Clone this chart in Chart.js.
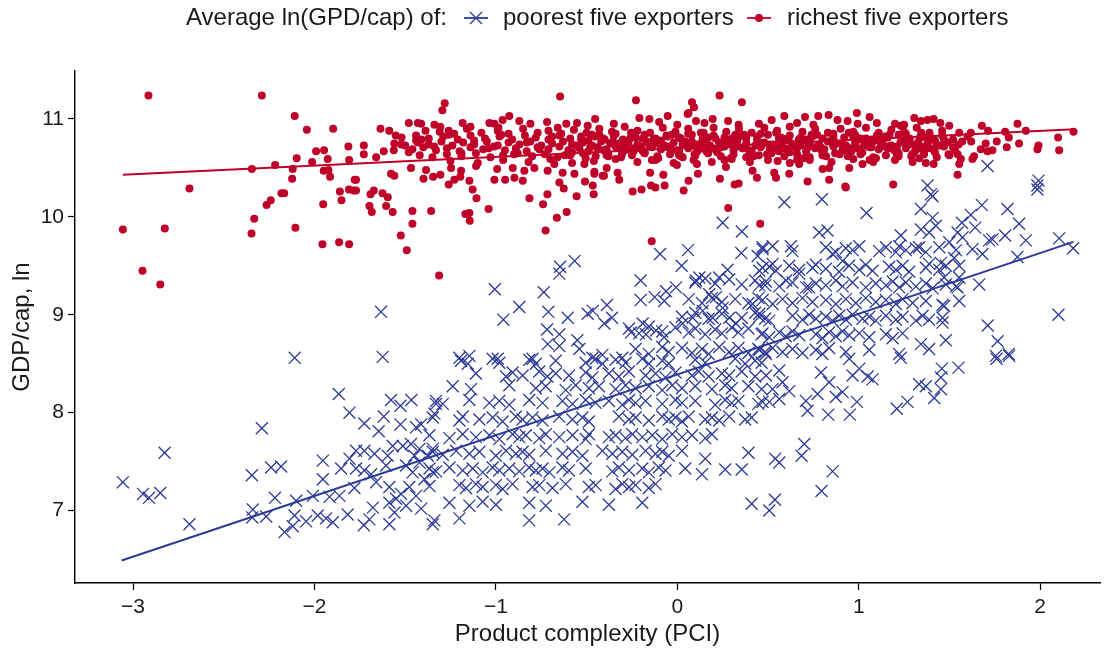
<!DOCTYPE html>
<html>
<head>
<meta charset="utf-8">
<script src="https://cdn.jsdelivr.net/npm/chart.js@4.4.1/dist/chart.umd.min.js"></script>
<style>
  html, body { margin: 0; padding: 0; background: #fff; }
  #wrap { width: 1113px; height: 651px; }
</style>
</head>
<body>
<div id="wrap"><canvas id="pciChart" width="1113" height="651"></canvas></div>
<script>
// === Data (x = PCI, y = ln GDP/cap) ===
const xTicks = [-3, -2, -1, 0, 1, 2];
const yTicks = [7, 8, 9, 10, 11];

const legendTitle = "Average ln(GPD/cap) of:";
const poorLabel = "poorest five exporters";
const richLabel = "richest five exporters";

// fitted lines, end points
const poorFit = [[-3.063, 6.49], [2.184, 9.745]];
const richFit = [[-3.056, 10.43], [2.19, 10.895]];

// richest five: scattered points left of the main band
const richLeft = [
  [-2.915,11.24],[-2.29,11.24],[-2.109,11.03],[-2.042,10.89],[-1.897,10.90],[-1.813,10.72],[-1.991,10.67],[-1.947,10.68],
  [-2.098,10.60],[-2.013,10.56],[-1.927,10.59],[-1.809,10.58],[-2.217,10.53],[-2.345,10.49],[-2.12,10.49],[-1.949,10.47],
  [-1.923,10.48],[-1.914,10.41],[-2.123,10.39],[-1.778,10.38],[-2.689,10.29],[-1.86,10.26],[-1.81,10.28],[-1.784,10.27],
  [-2.182,10.24],[-2.167,10.24],[-2.241,10.17],[-2.264,10.12],[-1.851,10.17],[-1.952,10.13],[-2.332,9.98],[-2.347,9.83],
  [-2.105,9.89],[-3.056,9.87],[-2.825,9.88],[-1.956,9.72],[-1.864,9.74],[-1.809,9.72],[-2.948,9.45],[-2.85,9.31]
];

// richest five: outliers around the band, middle section
const richMid = [
  [-0.646,11.23],[-1.282,11.16],[-1.295,11.09],[-1.48,10.96],[-1.43,10.96],[-1.412,10.95],[-1.636,10.90],[-1.588,10.88],
  [-1.552,10.83],[-1.728,10.73],[-1.728,10.64],[-1.771,10.38],[-1.771,10.27],[-1.66,10.61],[-1.618,10.67],[-1.563,10.68],
  [-1.522,10.74],[-1.44,10.78],[-1.388,10.88],[-1.339,10.94],[-1.306,10.92],[-1.26,10.88],[-1.183,10.96],[-1.14,10.92],
  [-1.036,10.96],[-1.008,10.95],[-0.986,10.91],[-0.963,10.99],[-0.926,11.03],[-0.871,10.98],[-0.81,10.95],[-0.718,10.97],
  [-0.659,10.91],[-0.612,10.95],[-0.553,10.96],[-0.494,10.93],[-0.453,11.00],
  [-1.691,10.23],[-1.673,10.27],[-1.625,10.24],[-1.596,10.20],[-1.697,10.11],[-1.684,10.05],[-1.605,10.11],[-1.569,10.05],
  [-1.46,10.06],[-1.46,9.93],[-1.357,10.06],[-1.524,9.81],[-1.491,9.66],[-1.313,9.40],[-1.168,10.03],[-1.146,10.04],
  [-1.144,9.96],[-1.128,10.28],[-1.107,10.19],[-1.04,10.08],[-0.815,10.19],[-0.74,10.13],[-0.716,10.23],[-0.664,9.99],
  [-0.61,10.05],[-0.726,9.86],[-0.555,10.21],[-0.461,10.23],[-0.466,10.32],[-0.509,10.36],[-0.457,10.46],[-0.65,10.35],
  [-0.626,10.29],[-1.008,10.38],[-0.949,10.38],[-0.898,10.40],[-0.852,10.37],[-1.399,10.39],[-1.346,10.41],[-1.306,10.43],
  [-1.26,10.33],[-1.229,10.38],[-1.196,10.41],[-1.146,10.37],[-1.109,10.52],[-1.385,10.48],[-1.247,10.50],[-1.192,10.47],
  [-1.578,10.44],[-1.56,10.42],[-1.468,10.50],[-0.993,10.49],[-0.907,10.50],[-0.843,10.47],[-0.788,10.50],[-0.715,10.47],
  [-0.678,10.54],[-0.632,10.45],[-0.567,10.44],[-0.512,10.54],[-0.457,10.44],[-0.411,10.42],
  [-0.228,11.19],[0.081,11.17],[0.092,11.12],[0.233,11.24],[0.356,11.17],[0.062,11.06],[0.057,11.05],[-0.209,11.01],
  [-0.154,11.00],[-0.053,11.03],[0.103,10.98],[0.195,11.00],[0.338,10.94],[0.59,11.03],[0.704,11.02],[0.777,11.03],
  [0.834,11.04],[0.883,10.99],[-0.389,10.50],[-0.404,10.42],[-0.329,10.45],[-0.32,10.38],[-0.246,10.26],[-0.197,10.28],
  [-0.145,10.32],[-0.121,10.30],[-0.07,10.32],[-0.077,10.43],[-0.15,10.45],[-0.002,10.53],[0.062,10.37],[0.035,10.27],
  [0.114,10.44],[0.108,10.54],[0.235,10.39],[0.268,10.51],[0.316,10.33],[0.338,10.34],[0.281,10.09],[0.457,9.93],
  [-0.141,9.75],[0.439,10.40],[0.415,10.47],[0.544,10.40],[0.534,10.45],[0.617,10.44],[0.718,10.36],[0.837,10.38],
  [0.926,10.31],[0.837,10.50],[0.801,10.49],[0.672,10.54],[0.553,10.57]
];

// richest five: right end of the band
const richRight = [
  [0.99,11.06],[1.06,11.02],[0.939,10.98],[0.994,10.95],[1.306,11.01],[1.343,10.98],[1.379,10.99],[1.413,11.00],
  [1.2,10.95],[1.232,10.93],[1.499,10.93],[1.554,10.86],[1.618,10.86],[1.679,10.93],[1.713,10.88],[1.807,10.87],
  [1.875,10.95],[1.921,10.88],[1.827,10.81],[1.761,10.77],[1.884,10.75],[1.991,10.73],[1.985,10.69],[2.099,10.81],
  [2.105,10.68],[2.184,10.87],[1.816,10.71],[1.737,10.68],[1.71,10.67],[1.673,10.69],[1.636,10.62],[1.627,10.59],
  [1.545,10.64],[1.563,10.59],[1.554,10.54],[1.545,10.43],[1.413,10.54],[1.37,10.55],[1.297,10.56],[1.334,10.60],
  [1.021,10.54],[0.948,10.50],[0.929,10.30],[1.19,10.33]
];

// richest five: the dense band itself
const richBand = [
  [-1.31,10.87],[-1.23,10.85],[-1.16,10.9],[-1.08,10.86],[-0.99,10.88],[-0.93,10.85],[-0.85,10.9],[-0.77,10.86],
  [-0.71,10.88],[-0.64,10.85],[-0.57,10.89],[-0.5,10.86],[-0.43,10.9],[-0.36,10.87],[-0.29,10.92],[-0.22,10.88],
  [-0.15,10.86],[-0.08,10.91],[-0.01,10.87],[0.06,10.9],[0.13,10.86],[0.2,10.91],[0.27,10.87],[0.34,10.9],
  [0.41,10.86],[0.48,10.91],[0.55,10.88],[0.62,10.92],[0.69,10.87],[0.76,10.9],[0.83,10.86],[0.9,10.9],
  [0.97,10.87],[1.04,10.91],[1.11,10.86],[1.18,10.89],[1.25,10.87],[1.32,10.91],[1.39,10.86],[1.46,10.88],
  [-1.52,10.81],[-1.44,10.83],[-1.37,10.8],[-1.29,10.82],[-1.21,10.79],[-1.14,10.83],[-1.06,10.8],[-0.98,10.82],
  [-0.91,10.79],[-0.84,10.83],[-0.78,10.81],[-0.71,10.79],[-0.65,10.83],[-0.59,10.8],[-0.53,10.82],[-0.47,10.84],
  [-0.41,10.8],[-0.35,10.83],[-0.3,10.79],[-0.24,10.82],[-0.18,10.84],[-0.12,10.8],[-0.06,10.83],[0.01,10.81],
  [0.08,10.84],[0.14,10.8],[0.2,10.83],[0.26,10.81],[0.32,10.84],[0.38,10.8],[0.44,10.82],[0.5,10.84],
  [0.56,10.8],[0.62,10.83],[0.68,10.81],[0.74,10.84],[0.8,10.8],[0.86,10.83],[0.92,10.81],[0.98,10.84],
  [1.04,10.8],[1.1,10.83],[1.16,10.81],[1.22,10.84],[1.28,10.8],[1.34,10.82],[1.4,10.8],[1.46,10.83],
  [1.52,10.79],[1.6,10.82],
  [-1.56,10.75],[-1.5,10.73],[-1.43,10.76],[-1.37,10.74],[-1.3,10.77],[-1.24,10.73],[-1.18,10.76],[-1.12,10.74],
  [-1.05,10.77],[-0.99,10.73],[-0.93,10.76],[-0.87,10.74],[-0.81,10.77],[-0.75,10.73],[-0.69,10.75],[-0.63,10.77],
  [-0.58,10.74],[-0.52,10.76],[-0.47,10.73],[-0.42,10.77],[-0.37,10.75],[-0.32,10.73],[-0.27,10.76],[-0.22,10.74],
  [-0.17,10.77],[-0.12,10.75],[-0.07,10.73],[-0.02,10.76],[0.03,10.74],[0.08,10.77],[0.13,10.75],[0.18,10.73],
  [0.23,10.76],[0.28,10.74],[0.33,10.77],[0.38,10.75],[0.43,10.73],[0.48,10.76],[0.53,10.74],[0.58,10.77],
  [0.63,10.75],[0.68,10.73],[0.73,10.76],[0.78,10.74],[0.83,10.77],[0.88,10.75],[0.93,10.73],[0.98,10.76],
  [1.03,10.74],[1.08,10.77],[1.13,10.75],[1.18,10.73],[1.23,10.76],[1.28,10.74],[1.33,10.77],[1.38,10.75],
  [1.43,10.73],[1.49,10.76],[1.55,10.74],[1.62,10.77],[1.7,10.75],
  [-1.46,10.69],[-1.4,10.71],[-1.33,10.68],[-1.27,10.7],[-1.2,10.67],[-1.14,10.71],[-1.07,10.69],[-1.01,10.72],
  [-0.95,10.68],[-0.89,10.7],[-0.83,10.67],[-0.77,10.71],[-0.71,10.69],[-0.65,10.72],[-0.6,10.68],[-0.54,10.7],
  [-0.49,10.67],[-0.44,10.71],[-0.39,10.69],[-0.34,10.72],[-0.29,10.68],[-0.24,10.7],[-0.19,10.67],[-0.14,10.71],
  [-0.09,10.69],[-0.04,10.72],[0.01,10.68],[0.06,10.7],[0.11,10.67],[0.16,10.71],[0.21,10.69],[0.26,10.72],
  [0.31,10.68],[0.36,10.7],[0.41,10.67],[0.46,10.71],[0.51,10.69],[0.56,10.72],[0.61,10.68],[0.66,10.7],
  [0.71,10.67],[0.76,10.71],[0.81,10.69],[0.86,10.72],[0.91,10.68],[0.96,10.7],[1.01,10.67],[1.06,10.71],
  [1.11,10.69],[1.16,10.72],[1.21,10.68],[1.26,10.7],[1.31,10.67],[1.36,10.71],[1.41,10.69],[1.47,10.72],[1.53,10.68],
  [-1.42,10.63],[-1.35,10.61],[-1.27,10.64],[-1.19,10.62],[-1.11,10.65],[-1.03,10.61],[-0.96,10.63],[-0.88,10.65],
  [-0.8,10.62],[-0.73,10.64],[-0.66,10.61],[-0.59,10.63],[-0.52,10.65],[-0.45,10.62],[-0.38,10.64],[-0.31,10.61],
  [-0.25,10.63],[-0.18,10.65],[-0.11,10.62],[-0.04,10.64],[0.03,10.61],[0.1,10.63],[0.17,10.65],[0.24,10.62],
  [0.31,10.64],[0.38,10.61],[0.45,10.63],[0.52,10.65],[0.59,10.62],[0.66,10.64],[0.73,10.61],[0.8,10.63],
  [0.87,10.65],[0.94,10.62],[1.01,10.64],[1.08,10.61],[1.15,10.63],[1.22,10.65],[1.29,10.62],[1.36,10.64],
  [1.43,10.61],[1.5,10.63],
  [-1.25,10.57],[-1.1,10.55],[-0.96,10.58],[-0.82,10.56],[-0.7,10.59],[-0.58,10.55],[-0.46,10.57],[-0.34,10.59],
  [-0.22,10.56],[-0.12,10.58],[-0.02,10.55],[0.09,10.58],[0.19,10.56],[0.3,10.59],[0.4,10.56],[0.5,10.58],
  [0.62,10.55],[0.73,10.58],[0.85,10.56],[0.97,10.59],[1.08,10.56],[1.2,10.58],
  [-0.4,10.79],[-0.33,10.71],[-0.26,10.8],[-0.2,10.72],[-0.13,10.79],[-0.05,10.71],[0.02,10.8],[0.1,10.72],
  [0.16,10.79],[0.24,10.71],[0.3,10.8],[0.37,10.72],[0.44,10.79],[0.51,10.71],[0.58,10.8],[0.65,10.72],
  [0.71,10.79],[0.79,10.71],[0.86,10.8],[0.93,10.72],[1.0,10.79],[1.07,10.71],[1.14,10.8],[1.21,10.72],
  [1.28,10.79],[1.35,10.71],[1.42,10.78],
  [-0.35,10.95],[-0.1,10.97],[0.0,10.94],[0.15,10.96],[0.28,10.98],[0.45,10.95],[0.52,10.99],[0.66,10.96],
  [0.75,10.94],[1.1,10.96],[1.25,10.94],[1.45,10.96]
];

// richest five: the solid core of the band, between the rows above
const richCore = [
  [-0.58,10.66],[-0.53,10.79],[-0.48,10.71],[-0.43,10.84],[-0.38,10.62],[-0.33,10.75],[-0.28,10.69],[-0.23,10.81],
  [-0.18,10.66],[-0.13,10.79],[-0.08,10.71],[-0.03,10.84],[0.02,10.62],[0.07,10.75],[0.12,10.69],[0.17,10.81],
  [0.22,10.66],[0.27,10.79],[0.32,10.71],[0.37,10.84],[0.42,10.62],[0.47,10.75],[0.52,10.69],[0.57,10.81],
  [0.62,10.66],[0.67,10.79],[0.72,10.71],[0.77,10.84],[0.82,10.62],[0.87,10.75],[0.92,10.69],[0.97,10.81],
  [1.02,10.66],[1.07,10.79],[1.12,10.71],[1.17,10.84],[1.22,10.62],[1.27,10.75],[1.32,10.69],[1.37,10.81],
  [1.42,10.66],[1.47,10.79],[1.52,10.71],[1.57,10.77],
  [-0.555,10.73],[-0.505,10.6],[-0.455,10.82],[-0.405,10.68],[-0.355,10.77],[-0.305,10.64],[-0.255,10.86],[-0.205,10.7],
  [-0.155,10.73],[-0.105,10.6],[-0.055,10.82],[-0.005,10.68],[0.045,10.77],[0.095,10.64],[0.145,10.86],[0.195,10.7],
  [0.245,10.73],[0.295,10.6],[0.345,10.82],[0.395,10.68],[0.445,10.77],[0.495,10.64],[0.545,10.86],[0.595,10.7],
  [0.645,10.73],[0.695,10.6],[0.745,10.82],[0.795,10.68],[0.845,10.77],[0.895,10.64],[0.945,10.86],[0.995,10.7],
  [1.045,10.73],[1.095,10.6],[1.145,10.82],[1.195,10.68],[1.245,10.77],[1.295,10.64],[1.345,10.86],[1.395,10.7],
  [1.445,10.73],[1.495,10.64],
  [-0.49,10.78],[-0.44,10.7],[-0.39,10.63],[-0.34,10.85],[-0.29,10.74],[-0.24,10.67],[-0.19,10.8],[-0.14,10.58],
  [-0.09,10.78],[-0.04,10.7],[0.01,10.63],[0.06,10.85],[0.11,10.74],[0.16,10.67],[0.21,10.8],[0.26,10.58],
  [0.31,10.78],[0.36,10.7],[0.41,10.63],[0.46,10.85],[0.51,10.74],[0.56,10.67],[0.61,10.8],[0.66,10.58],
  [0.71,10.78],[0.76,10.7],[0.81,10.63],[0.86,10.85],[0.91,10.74],[0.96,10.67],[1.01,10.8],[1.06,10.58],
  [1.11,10.78],[1.16,10.7],[1.21,10.63],[1.26,10.85],[1.31,10.74],[1.36,10.67],[1.41,10.8],
  [-1.48,10.66],[-1.41,10.79],[-1.34,10.72],[-1.26,10.84],[-1.19,10.65],[-1.12,10.78],[-1.04,10.7],[-0.97,10.84],
  [-0.9,10.64],[-0.83,10.76],[-0.76,10.69],[-0.69,10.82],[-0.62,10.63]
];

// poorest five: left, sparse part
const poorLeft = [
  [-3.056,7.29],[-2.945,7.17],[-2.912,7.13],[-2.85,7.18],[-2.826,7.59],[-2.689,6.86],[-2.345,7.36],[-2.29,7.84],
  [-2.239,7.44],[-2.184,7.45],[-2.218,7.13],[-2.34,7.01],[-2.343,6.93],[-2.266,6.94],[-2.165,6.78],[-2.12,6.84],
  [-2.101,7.10],[-2.11,6.95],[-2.046,6.89],[-2.009,7.15],[-1.982,6.95],[-1.936,6.92],[-1.899,6.88],[-1.954,7.51],
  [-1.954,7.32],[-1.917,7.14],[-1.862,7.15],[-1.817,6.96],[-1.78,7.23],[-1.853,7.43],[-1.807,7.53],[-1.771,7.61],
  [-1.725,7.61],[-1.771,7.43],[-1.725,7.41],[-1.688,7.37],[-1.66,7.29],[-1.596,7.56],[-1.569,7.66],[-1.605,7.46],
  [-1.669,7.58],[-1.728,6.85],[-1.697,6.91],[-1.678,7.03],[-1.587,6.86],[-1.587,7.08],[-1.559,6.98],[-1.495,7.05],
  [-1.412,7.02],[-1.348,6.86],[-1.513,7.66],[-1.468,7.68],[-1.421,7.63],[-1.449,7.56],[-1.421,7.49],[-1.375,7.56],
  [-1.348,7.63],[-1.495,7.46],[-1.459,7.39],[-1.394,7.32],[-1.366,7.25],[-1.348,7.39],[-1.587,7.24],[-1.55,7.12],
  [-1.523,7.17],[-1.477,7.24],[-1.44,7.15],[-1.412,7.88],[-1.339,7.99],[-1.33,8.09],[-1.44,7.85],[-2.109,8.56],
  [-1.624,8.57],[-1.866,8.19],[-1.807,8.00],[-1.578,8.13],[-1.526,8.07],[-1.466,8.13],[-1.618,7.96],[-1.526,7.88],
  [-1.725,7.89],[-1.646,7.81],[-1.633,9.03]
];

// poorest five: centre, upper part
const poorCentreHigh = [
  [0.25,9.94],[0.356,9.85],[-0.095,9.62],[0.059,9.66],[-0.566,9.55],[-0.646,9.49],[-0.65,9.42],[0.024,9.50],
  [0.353,9.63],[0.47,9.69],[0.443,9.60],[0.277,9.46],[0.231,9.38],[0.121,9.38],[0.103,9.35],[0.47,9.48],
  [-0.202,9.35],[-0.202,9.15],[-0.125,9.18],[-0.062,9.24],[-0.072,9.14],[-0.007,9.28],[-1.006,9.26],[-0.736,9.23],
  [-0.871,9.08],[-0.959,8.95],[-0.711,9.03],[-0.604,8.97],[-0.494,9.01],[-0.466,9.04],[-0.388,9.10],[-0.402,8.91],
  [-0.36,8.97],[-0.718,8.85],[-0.714,8.70],[-0.65,8.80],[-0.65,8.68],[-0.551,8.74],[-0.54,8.65],[-0.255,8.82],
  [-0.191,8.91],[-0.173,8.80],[-0.117,8.84],[-0.072,8.77],[0.029,8.91],[0.085,8.97],[0.14,9.04],[0.195,8.97],
  [0.213,9.18],[0.176,9.21],[0.25,9.07],[0.287,8.97],[0.323,8.91],[0.415,9.11],[0.452,9.01],[-1.201,8.56],
  [-1.146,8.58],[-0.99,8.55],[-0.798,8.55],[-0.468,8.56],[-0.413,8.59],[-0.303,8.56],
  [-0.266,8.86],[-0.211,8.81],[-0.157,8.88],[-0.083,8.83],[-0.01,8.87],[0.063,8.82],[0.099,8.86],[0.154,8.8],
  [0.209,8.85],[0.246,8.81],[0.3,8.87],[0.337,8.82],[0.392,8.86],[0.465,8.8],
  [-0.23,8.65],[-0.157,8.6],[-0.083,8.67],[-0.047,8.62],[0.026,8.66],[0.081,8.61],[0.136,8.65],[0.173,8.6],
  [0.231,8.67],[0.286,8.62],[0.337,8.66],[0.392,8.61],[0.447,8.65],[0.484,8.62],
  [0.099,9.33],[0.154,9.37],[0.209,9.32],[0.286,9.36],[0.355,9.31],[0.429,9.35],[0.484,9.3],
  [0.063,9.16],[0.136,9.12],[0.191,9.17],[0.246,9.13],[0.319,9.16],[0.392,9.12],[0.447,9.17],
  [0.026,8.98],[0.099,9.02],[0.173,8.96],[0.246,9.01],[0.355,8.97],[0.429,9.02],[0.484,8.96],
  [0.672,9.42],[0.745,9.48],[0.856,9.62],[0.911,9.55],[0.452,9.45],[0.6,9.35],[0.711,9.28]
];

// poorest five: right, upper part
const poorRight = [
  [1.985,10.32],[1.379,10.32],[1.398,10.23],[0.59,10.15],[0.797,10.18],[1.043,10.04],[0.782,9.84],[0.828,9.86],
  [0.626,9.70],[1.232,9.81],[1.343,10.08],[1.407,9.99],[1.425,9.91],[1.343,9.87],[1.388,9.84],[1.679,10.12],
  [1.82,10.08],[1.618,10.02],[1.642,9.89],[1.569,9.94],[1.545,9.84],[1.884,9.93],[1.807,9.81],[1.921,9.76],
  [1.737,9.77],[1.719,9.76],[1.499,9.74],[1.333,9.69],[1.627,9.67],[1.682,9.62],[1.526,9.58],[1.554,9.50],
  [2.105,9.78],[2.182,9.68],[1.875,9.59],[1.664,9.31],[1.545,9.28],[1.554,9.14],[1.471,9.09],[1.462,8.92],
  [1.48,8.74],[1.554,9.38],[2.101,9.00],[1.711,8.89],[1.766,8.73],[1.756,8.58],[1.826,8.60],[1.343,8.70],
  [1.388,8.65],[1.223,8.60],[1.71,10.52],[1.991,10.37],[1.985,10.28],[1.407,10.21],[0.525,9.52],
  [1.572,9.79],[1.453,9.53],[1.388,9.52],[1.471,9.38],
  [0.47,9.67],[0.525,9.7],[0.635,9.65],[0.819,9.69],[0.874,9.64],[0.929,9.68],[0.966,9.66],[1.003,9.7],
  [1.113,9.65],[1.15,9.69],[1.205,9.64],[1.223,9.7],[1.26,9.66],[1.315,9.68],[1.37,9.64],[1.444,9.69],[1.536,9.66],
  [0.507,9.49],[0.543,9.45],[0.617,9.5],[0.672,9.46],[0.764,9.51],[0.819,9.47],[0.892,9.44],[0.947,9.5],
  [1.003,9.46],[1.039,9.51],[1.076,9.45],[1.168,9.49],[1.205,9.46],[1.242,9.5],[1.278,9.44],[1.37,9.48],
  [1.444,9.46],[1.48,9.5],
  [0.452,9.3],[0.488,9.34],[0.562,9.29],[0.635,9.33],[0.727,9.28],[0.764,9.32],[0.819,9.3],[0.874,9.35],
  [0.911,9.29],[0.966,9.33],[1.039,9.28],[1.094,9.32],[1.15,9.3],[1.187,9.34],[1.223,9.28],[1.26,9.33],
  [1.315,9.29],[1.37,9.32],[1.407,9.27],[1.48,9.31],[1.536,9.29],
  [0.47,9.15],[0.525,9.11],[0.58,9.16],[0.635,9.12],[0.69,9.17],[0.745,9.13],[0.819,9.15],[0.874,9.11],
  [0.929,9.16],[0.984,9.12],[1.039,9.17],[1.094,9.13],[1.15,9.15],[1.205,9.11],[1.242,9.16],[1.297,9.12],
  [1.37,9.14],[1.462,9.1],
  [0.452,8.98],[0.507,8.94],[0.635,8.99],[0.69,8.95],[0.727,9.0],[0.764,8.96],[0.819,8.98],[0.855,8.94],
  [0.892,8.99],[0.929,8.95],[0.966,9.0],[1.021,8.96],[1.058,8.98],[1.094,8.94],[1.15,8.99],[1.205,8.95],
  [1.242,8.98],[1.315,8.94],[1.352,8.99],[1.388,8.95],[1.462,8.97],
  [0.47,8.81],[0.507,8.77],[0.562,8.82],[0.598,8.78],[0.635,8.83],[0.672,8.79],[0.764,8.8],[0.8,8.76],
  [0.837,8.82],[0.874,8.78],[0.911,8.83],[0.947,8.79],[1.003,8.81],[1.058,8.77],[1.15,8.8],[1.187,8.76],[1.242,8.81],
  [0.452,8.64],[0.488,8.6],[0.525,8.66],[0.58,8.62],[0.635,8.65],[0.69,8.61],[0.764,8.64],[0.8,8.6],
  [0.837,8.66],[0.929,8.62],[1.058,8.64]
];

// poorest five: right, lower part
const poorRightLow = [
  [1.55,8.46],[1.458,8.45],[1.453,8.36],[1.453,8.24],[1.416,8.15],[1.333,8.29],[1.37,8.27],[1.269,8.11],
  [1.21,8.04],[1.76,8.55],[1.829,8.58],[1.232,8.56],[0.99,8.11],[0.951,7.98],[0.832,7.98],[0.718,8.02],
  [0.709,8.12],[0.7,7.68],[0.685,7.56],[0.54,7.53],[0.562,7.49],[0.856,7.40],[0.795,7.20],[0.538,7.11],
  [0.507,7.00],[1.076,8.34],[1.049,8.37],[0.966,8.38],[1.003,8.45],[0.948,8.55],[0.874,8.16],[0.911,8.21],
  [0.773,8.19],[0.837,8.31],[0.792,8.41],[0.617,8.22],[0.562,8.14],[0.507,8.11],[0.47,8.11],[0.525,8.24],
  [0.489,8.38],[0.562,8.43],[0.58,8.31]
];

// poorest five: the crowded middle cloud
const poorCloud = [
  [-1.192,8.53],[-1.155,8.5],[-1.018,8.55],[-0.981,8.51],[-0.816,8.54],[-0.78,8.5],[-0.67,8.53],[-0.505,8.51],
  [-0.45,8.55],[-0.413,8.5],[-0.34,8.54],[-0.285,8.51],[-0.193,8.55],[-0.157,8.5],[-0.083,8.53],[-0.047,8.5],
  [0.099,8.54],[0.154,8.51],[0.319,8.55],[0.374,8.5],[0.429,8.53],[0.465,8.51],
  [-1.11,8.4],[-0.944,8.37],[-0.908,8.41],[-0.853,8.38],[-0.761,8.42],[-0.716,8.37],[-0.67,8.4],[-0.597,8.38],
  [-0.505,8.41],[-0.468,8.36],[-0.377,8.4],[-0.322,8.37],[-0.266,8.42],[-0.175,8.38],[-0.12,8.4],[-0.065,8.36],
  [-0.01,8.41],[0.081,8.38],[0.118,8.42],[0.173,8.37],[0.246,8.4],[0.286,8.38],[0.355,8.42],[0.429,8.37],
  [-1.238,8.27],[-1.137,8.24],[-0.926,8.28],[-0.78,8.25],[-0.725,8.27],[-0.615,8.23],[-0.56,8.28],[-0.487,8.25],
  [-0.432,8.27],[-0.34,8.24],[-0.285,8.28],[-0.23,8.25],[-0.157,8.27],[-0.083,8.23],[-0.028,8.28],[0.026,8.25],
  [0.099,8.27],[0.191,8.24],[0.264,8.28],[0.3,8.25],[0.392,8.27],[0.465,8.24],
  [-1.33,8.12],[-1.293,8.09],[-1.146,8.13],[-1.036,8.1],[-0.981,8.12],[-0.926,8.08],[-0.816,8.13],[-0.743,8.1],
  [-0.633,8.12],[-0.578,8.09],[-0.505,8.13],[-0.45,8.1],[-0.377,8.12],[-0.303,8.08],[-0.266,8.13],[-0.23,8.1],
  [-0.175,8.12],[-0.083,8.09],[-0.01,8.13],[0.026,8.1],[0.099,8.12],[0.209,8.08],[0.264,8.13],[0.3,8.1],
  [0.337,8.12],[0.447,8.09],
  [-1.348,7.95],[-1.201,7.92],[-1.183,7.96],[-1.091,7.93],[-1.018,7.95],[-0.963,7.91],[-0.89,7.96],[-0.853,7.93],
  [-0.798,7.95],[-0.743,7.92],[-0.651,7.96],[-0.578,7.93],[-0.523,7.95],[-0.487,7.91],[-0.322,7.96],[-0.266,7.93],
  [-0.23,7.95],[-0.157,7.92],[-0.083,7.96],[-0.047,7.93],[-0.01,7.95],[0.026,7.91],[0.063,7.96],[0.154,7.93],
  [0.191,7.95],[0.231,7.92],[0.286,7.96],[0.374,7.93],[0.41,7.95],
  [-1.366,7.77],[-1.256,7.74],[-1.183,7.78],[-1.11,7.75],[-1.036,7.77],[-0.981,7.73],[-0.908,7.78],[-0.871,7.75],
  [-0.835,7.77],[-0.761,7.74],[-0.725,7.78],[-0.651,7.75],[-0.578,7.77],[-0.505,7.73],[-0.487,7.78],[-0.377,7.75],
  [-0.34,7.77],[-0.285,7.74],[-0.248,7.78],[-0.193,7.75],[-0.138,7.77],[-0.083,7.73],[-0.028,7.78],[0.026,7.75],
  [0.081,7.77],[0.154,7.74],[0.191,7.78],
  [-1.348,7.6],[-1.293,7.57],[-1.219,7.61],[-1.146,7.58],[-1.091,7.6],[-1.0,7.56],[-0.944,7.61],[-0.89,7.58],
  [-0.853,7.6],[-0.816,7.57],[-0.725,7.61],[-0.633,7.58],[-0.578,7.6],[-0.523,7.56],[-0.413,7.61],[-0.358,7.58],
  [-0.303,7.6],[-0.248,7.57],[-0.175,7.61],[-0.12,7.58],[-0.083,7.6],[-0.047,7.56],[0.026,7.61],[0.154,7.53],[0.392,7.59],
  [-1.366,7.43],[-1.33,7.4],[-1.256,7.44],[-1.183,7.41],[-1.128,7.43],[-1.073,7.39],[-1.018,7.44],[-0.981,7.41],
  [-0.926,7.43],[-0.871,7.4],[-0.816,7.44],[-0.78,7.41],[-0.743,7.43],[-0.705,7.39],[-0.633,7.44],[-0.597,7.41],
  [-0.505,7.43],[-0.358,7.4],[-0.322,7.44],[-0.266,7.41],[-0.193,7.43],[-0.157,7.39],[-0.102,7.44],[-0.065,7.41],
  [0.044,7.43],[0.136,7.37],[0.264,7.42],[0.355,7.42],
  [-1.201,7.26],[-1.165,7.23],[-1.11,7.27],[-1.073,7.24],[-1.0,7.26],[-0.963,7.22],[-0.908,7.27],[-0.798,7.24],
  [-0.761,7.26],[-0.688,7.23],[-0.615,7.27],[-0.487,7.24],[-0.45,7.26],[-0.34,7.22],[-0.303,7.27],[-0.266,7.24],
  [-0.23,7.26],[-0.157,7.23],[-0.12,7.27],
  [-1.256,7.08],[-1.146,7.05],[-1.073,7.09],[-1.0,7.06],[-0.816,7.08],[-0.725,7.05],[-0.523,7.09],[-0.377,7.06],
  [-0.193,7.08],[0.41,7.07],
  [-1.339,6.9],[-1.201,6.92],[-0.816,6.9],[-0.624,6.91]
];

const POOR = "#2c3a97";
const RICH = "#bf0028";
const TEXT = "#1a1a1a";
const FONT = '"Liberation Sans", Arial, Helvetica, sans-serif';

const toXY = arr => arr.map(([x, y]) => ({ x, y }));

const poorPoints = toXY([...poorLeft, ...poorCentreHigh, ...poorCloud, ...poorRight, ...poorRightLow]);
const richPoints = toXY([...richLeft, ...richMid, ...richBand, ...richCore, ...richRight]);

const minusLabel = v => String(v).replace("-", "\u2212");

// === Legend row across the top ===
const topLegend = {
  id: "topLegend",
  afterDraw(chart) {
    const ctx = chart.ctx;
    const y = 18;
    ctx.save();
    ctx.font = "24px " + FONT;
    ctx.fillStyle = TEXT;
    ctx.textBaseline = "middle";
    ctx.textAlign = "left";
    ctx.fillText(legendTitle, 186, y);
    ctx.fillText(poorLabel, 503, y);
    ctx.fillText(richLabel, 787, y);

    // poorest: line + cross
    ctx.strokeStyle = POOR;
    ctx.lineWidth = 1.8;
    ctx.beginPath();
    ctx.moveTo(464, y); ctx.lineTo(488, y);
    ctx.stroke();
    ctx.lineWidth = 1.3;
    ctx.beginPath();
    ctx.moveTo(470, y - 6); ctx.lineTo(482, y + 6);
    ctx.moveTo(470, y + 6); ctx.lineTo(482, y - 6);
    ctx.stroke();

    // richest: line + dot
    ctx.strokeStyle = RICH;
    ctx.fillStyle = RICH;
    ctx.lineWidth = 1.8;
    ctx.beginPath();
    ctx.moveTo(747, y); ctx.lineTo(771, y);
    ctx.stroke();
    ctx.beginPath();
    ctx.arc(759, y, 4, 0, Math.PI * 2);
    ctx.fill();
    ctx.restore();
  }
};

const ctx = document.getElementById("pciChart").getContext("2d");

new Chart(ctx, {
  type: "scatter",
  data: {
    datasets: [
      {
        label: poorLabel + " fit",
        data: toXY(poorFit),
        showLine: true,
        borderColor: POOR,
        borderWidth: 2,
        pointRadius: 0,
        order: 0
      },
      {
        label: richLabel + " fit",
        data: toXY(richFit),
        showLine: true,
        borderColor: RICH,
        borderWidth: 2,
        pointRadius: 0,
        order: 0
      },
      {
        label: poorLabel,
        data: poorPoints,
        pointStyle: "crossRot",
        pointRadius: 8.5,
        borderColor: POOR,
        backgroundColor: POOR,
        borderWidth: 1.3,
        order: 1
      },
      {
        label: richLabel,
        data: richPoints,
        pointStyle: "circle",
        pointRadius: 4,
        borderWidth: 0,
        backgroundColor: RICH,
        borderColor: RICH,
        order: 2
      }
    ]
  },
  options: {
    responsive: false,
    animation: false,
    devicePixelRatio: 1,
    events: [],
    layout: { padding: { top: 71, right: 13, bottom: 0, left: 0 } },
    plugins: {
      legend: { display: false },
      tooltip: { enabled: false }
    },
    scales: {
      x: {
        type: "linear",
        min: -3.32,
        max: 2.33,
        afterBuildTicks: s => { s.ticks = xTicks.map(v => ({ value: v })); },
        afterFit: s => { s.height = 68; },
        grid: { drawOnChartArea: false, drawTicks: true, tickLength: 7, tickColor: "#000", tickWidth: 1.2 },
        border: { display: true, color: "#000", width: 1.4 },
        ticks: { color: TEXT, font: { family: FONT, size: 21 }, padding: 5, callback: minusLabel, maxRotation: 0 },
        title: { display: true, text: "Product complexity (PCI)", color: TEXT, font: { family: FONT, size: 24 }, padding: { top: 2, bottom: 2 } }
      },
      y: {
        type: "linear",
        min: 6.26,
        max: 11.49,
        afterBuildTicks: s => { s.ticks = yTicks.map(v => ({ value: v })); },
        afterFit: s => { s.width = 75; },
        grid: { drawOnChartArea: false, drawTicks: true, tickLength: 7, tickColor: "#000", tickWidth: 1.2 },
        border: { display: true, color: "#000", width: 1.4 },
        ticks: { color: TEXT, font: { family: FONT, size: 21 }, padding: 4, callback: minusLabel },
        title: { display: true, text: "GDP/cap, ln", color: TEXT, font: { family: FONT, size: 24 }, padding: { top: 8, bottom: 8 } }
      }
    }
  },
  plugins: [topLegend]
});
</script>
</body>
</html>
